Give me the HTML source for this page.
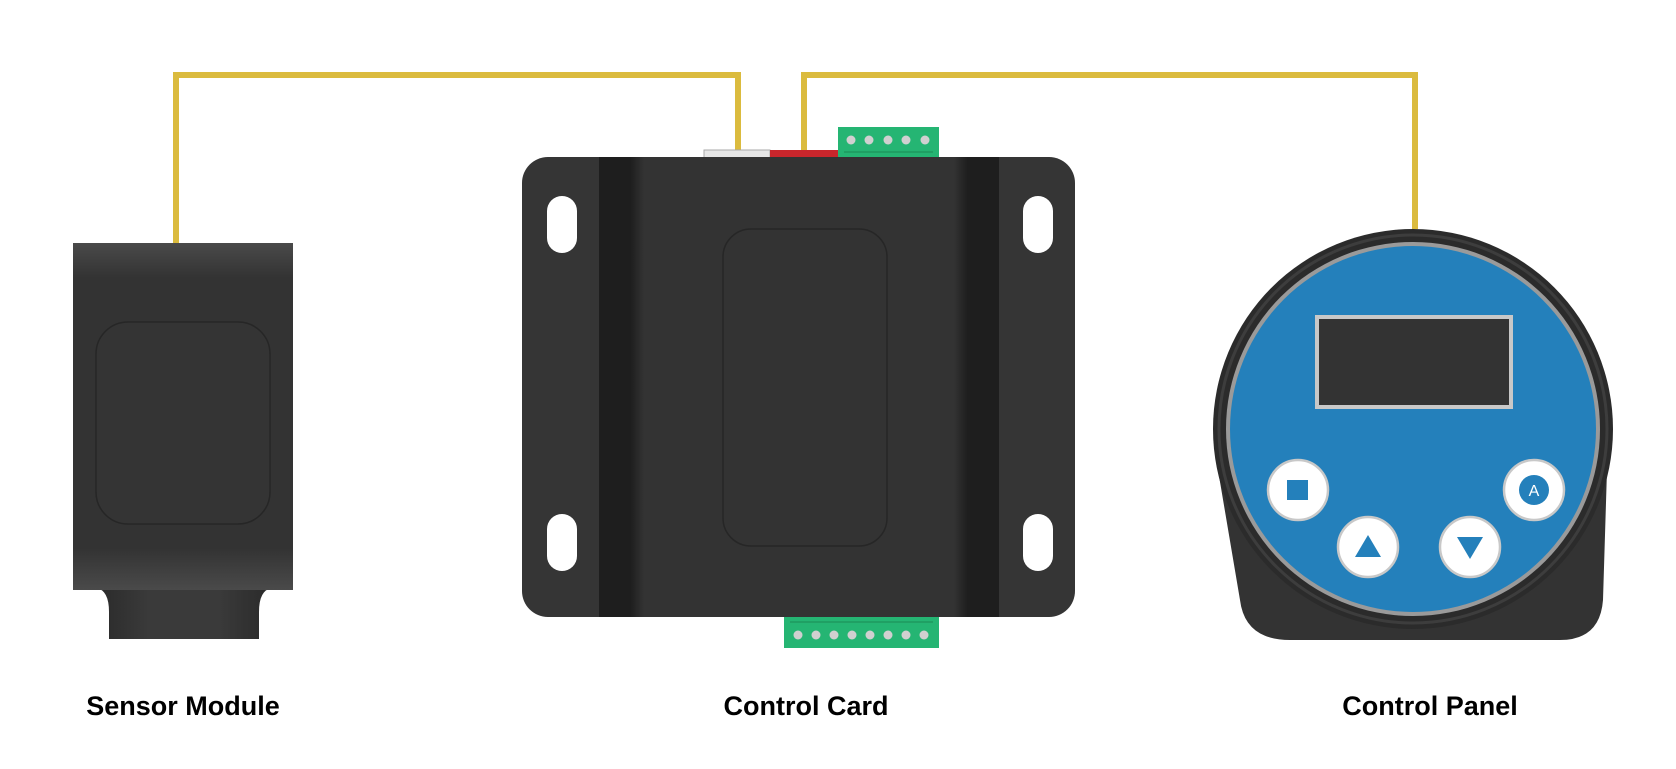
<!DOCTYPE html>
<html><head><meta charset="utf-8"><style>
html,body{margin:0;padding:0;background:#fff;}
svg{display:block}
</style></head><body>
<svg width="1676" height="769" viewBox="0 0 1676 769" xmlns="http://www.w3.org/2000/svg">
<defs>
<linearGradient id="sens" x1="0" y1="0" x2="0" y2="1">
<stop offset="0" stop-color="#4a4a4a"/><stop offset="0.1" stop-color="#333"/><stop offset="0.88" stop-color="#333"/><stop offset="1" stop-color="#4a4a4a"/></linearGradient>
<linearGradient id="neck" x1="0" y1="0" x2="1" y2="0">
<stop offset="0" stop-color="#2a2a2a"/><stop offset="0.3" stop-color="#3a3a3a"/><stop offset="0.7" stop-color="#3a3a3a"/><stop offset="1" stop-color="#2a2a2a"/></linearGradient>
<linearGradient id="stripL" x1="0" y1="0" x2="1" y2="0">
<stop offset="0" stop-color="#1e1e1e"/><stop offset="0.7" stop-color="#1e1e1e"/><stop offset="1" stop-color="#333"/></linearGradient>
<linearGradient id="stripR" x1="0" y1="0" x2="1" y2="0">
<stop offset="0" stop-color="#333"/><stop offset="0.3" stop-color="#1e1e1e"/><stop offset="1" stop-color="#1e1e1e"/></linearGradient>
</defs>
<!-- wires -->
<polyline points="176,243 176,75 738,75 738,151" fill="none" stroke="#dbbb3e" stroke-width="6"/>
<polyline points="804,151 804,75 1415,75 1415,229" fill="none" stroke="#dbbb3e" stroke-width="6"/>

<!-- sensor -->
<path d="M96,588 Q109,590 109,612 L109,639 L259,639 L259,612 Q259,590 272,588 Z" fill="url(#neck)"/>
<rect x="73" y="243" width="220" height="347" fill="url(#sens)"/>
<rect x="96" y="322" width="174" height="202" rx="32" fill="#343434" stroke="#262626" stroke-width="1.5"/>

<!-- control card -->
<rect x="704" y="150" width="66" height="8" fill="#e6e6e6" stroke="#aaa" stroke-width="1"/>
<rect x="770" y="150" width="68" height="8" fill="#c9262c"/>
<rect x="838" y="127" width="101" height="31" fill="#25b573"/>
<line x1="844" y1="152" x2="933" y2="152" stroke="#1e9a60" stroke-width="1.5"/>
<g fill="#d0d0d0"><circle cx="851" cy="140" r="4.5"/><circle cx="869" cy="140" r="4.5"/><circle cx="888" cy="140" r="4.5"/><circle cx="906" cy="140" r="4.5"/><circle cx="925" cy="140" r="4.5"/></g>
<rect x="784" y="615" width="155" height="33" fill="#25b573"/>
<line x1="790" y1="622" x2="933" y2="622" stroke="#1e9a60" stroke-width="1.5"/>
<g fill="#d0d0d0"><circle cx="798" cy="635" r="4.5"/><circle cx="816" cy="635" r="4.5"/><circle cx="834" cy="635" r="4.5"/><circle cx="852" cy="635" r="4.5"/><circle cx="870" cy="635" r="4.5"/><circle cx="888" cy="635" r="4.5"/><circle cx="906" cy="635" r="4.5"/><circle cx="924" cy="635" r="4.5"/></g>
<rect x="522" y="157" width="553" height="460" rx="26" fill="#353535"/>
<rect x="599" y="157" width="400" height="460" fill="#333"/>
<rect x="599" y="157" width="45" height="460" fill="url(#stripL)"/>
<rect x="954" y="157" width="45" height="460" fill="url(#stripR)"/>
<rect x="723" y="229" width="164" height="317" rx="28" fill="#333" stroke="#262626" stroke-width="1.5"/>
<g fill="#fff">
<rect x="547" y="196" width="30" height="57" rx="15"/>
<rect x="547" y="514" width="30" height="57" rx="15"/>
<rect x="1023" y="196" width="30" height="57" rx="15"/>
<rect x="1023" y="514" width="30" height="57" rx="15"/>
</g>

<!-- control panel -->
<path d="M1218,470 L1240,600 Q1245,640 1290,640 L1560,640 Q1600,640 1603,600 L1607,470 Z" fill="#333"/>
<circle cx="1413" cy="429" r="200" fill="#2b2b2b"/>
<circle cx="1413" cy="429" r="194" fill="none" stroke="#3d3d3d" stroke-width="3"/>
<circle cx="1413" cy="429" r="187" fill="#9a9a9a"/>
<circle cx="1413" cy="429" r="183" fill="#2480bb"/>
<rect x="1317" y="317" width="194" height="90" fill="#333" stroke="#c8c8c8" stroke-width="4"/>
<g fill="#fff" stroke="#c8c8c8" stroke-width="2.5">
<circle cx="1298" cy="490" r="30"/>
<circle cx="1368" cy="547" r="30"/>
<circle cx="1470" cy="547" r="30"/>
<circle cx="1534" cy="490" r="30"/>
</g>
<rect x="1287" y="480" width="21" height="20" fill="#2480bb"/>
<polygon points="1368,535 1355,557 1381,557" fill="#2480bb"/>
<polygon points="1457,537 1483,537 1470,559" fill="#2480bb"/>
<circle cx="1534" cy="490" r="15" fill="#2480bb"/>
<text x="1534" y="496" font-family="Liberation Sans, sans-serif" font-size="16" fill="#fff" text-anchor="middle">A</text>

<!-- labels -->
<g font-family="Liberation Sans, sans-serif" font-size="27" font-weight="bold" fill="#000" text-anchor="middle">
<text x="183" y="715">Sensor Module</text>
<text x="806" y="715">Control Card</text>
<text x="1430" y="715">Control Panel</text>
</g>
</svg>
</body></html>
